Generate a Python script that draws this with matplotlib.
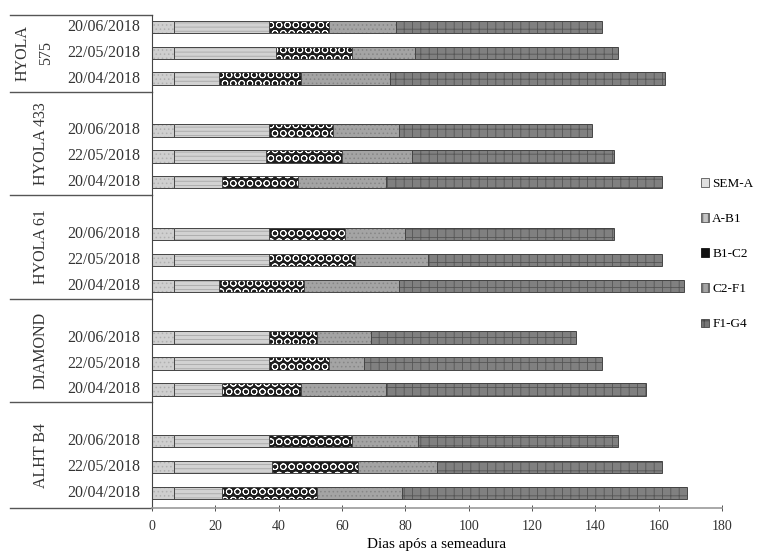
import matplotlib
matplotlib.use('Agg')
import matplotlib.pyplot as plt
import matplotlib.transforms as mtransforms
from matplotlib.patches import Patch
import numpy as np

plt.rcParams['font.family'] = ['Liberation Serif', 'DejaVu Serif']
plt.rcParams['hatch.linewidth'] = 0.6

# cultivars from bottom to top, sowing dates from bottom to top inside each group
cultivars = ['ALHT B4', 'DIAMOND', 'HYOLA 61', 'HYOLA 433', 'HYOLA\n575']
dates = ['20/04/2018', '22/05/2018', '20/06/2018']
stages = ['SEM-A', 'A-B1', 'B1-C2', 'C2-F1', 'F1-G4']

# end of each stage (days after sowing), order: cultivar x date
sem_a = [7, 7, 7,   7, 7, 7,   7, 7, 7,   7, 7, 7,   7, 7, 7]
a_b1 = [22, 38, 37,   22, 37, 37,   21, 37, 37,   22, 36, 37,   21, 39, 37]
b1_c2 = [52, 65, 63,   47, 56, 52,   48, 64, 61,   46, 60, 57,   47, 63, 56]
c2_f1 = [79, 90, 84,   74, 67, 69,   78, 87, 80,   74, 82, 78,   75, 83, 77]
f1_g4 = [169, 161, 147,   156, 142, 134,   168, 161, 146,   161, 146, 139,   162, 147, 142]

ends = np.array([sem_a, a_b1, b1_c2, c2_f1, f1_g4], dtype=float)
starts = np.vstack([np.zeros(ends.shape[1]), ends[:-1]])

# y positions: 4 slots per group, the top slot of each group left empty
ypos = np.array([4 * g + d for g in range(len(cultivars)) for d in range(len(dates))])

styles = [
    dict(facecolor='#cfcfcf', edgecolor='#b0b0b0', hatch='....'),
    dict(facecolor='#d2d2d2', edgecolor='#a8a8a8', hatch='----'),
    dict(facecolor='#1e1e1e', edgecolor='white', hatch='OO'),
    dict(facecolor='#a4a4a4', edgecolor='#868686', hatch='....'),
    dict(facecolor='#808080', edgecolor='#555555', hatch='++'),
]
legend_styles = [
    dict(facecolor='#e0e0e0', edgecolor='#555555'),
    dict(facecolor='#c4c4c4', edgecolor='#555555', hatch='|||'),
    dict(facecolor='#111111', edgecolor='#111111'),
    dict(facecolor='#a4a4a4', edgecolor='#555555', hatch='|||'),
    dict(facecolor='#777777', edgecolor='#444444', hatch='++'),
]

fig = plt.figure(figsize=(7.57, 5.57), dpi=100)
ax = fig.add_axes([152 / 757, 1 - 508 / 557, 570 / 757, 493 / 557])

h = 0.48
for i in range(len(stages)):
    ax.barh(ypos, ends[i] - starts[i], left=starts[i], height=h, linewidth=0, **styles[i])
    # outline of each segment
    ax.barh(ypos, ends[i] - starts[i], left=starts[i], height=h, fill=False,
            edgecolor='#444444', linewidth=0.7)

ax.set_xlim(0, 180)
ax.set_ylim(-0.58, 18.46)
ax.set_xticks(np.arange(0, 181, 20))
ax.tick_params(axis='x', direction='inout', length=4, width=0.6, labelsize=10, pad=7, colors='#333333')
ax.set_yticks([])
ax.spines['top'].set_visible(False)
ax.spines['right'].set_visible(False)
ax.spines['left'].set_color('#444444')
ax.spines['bottom'].set_color('#999999')
ax.spines['bottom'].set_linewidth(1.2)
ax.set_xlabel('Dias após a semeadura', fontsize=11, labelpad=3)

# date labels and cultivar labels on the left
trans = mtransforms.blended_transform_factory(ax.transAxes, ax.transData)
for k, y in enumerate(ypos):
    ax.text(-0.02, y, dates[k % 3], transform=trans, ha='right', va='center', fontsize=11.5, color='#333333')

x_line = (10 - 152) / 570
seps = [-0.58] + [4 * g - 0.5 for g in range(1, len(cultivars))] + [18.46]
for s in seps:
    ax.plot([x_line, 0], [s, s], transform=trans, color='#555555', linewidth=1.0, clip_on=False)
for g, name in enumerate(cultivars):
    ymid = (seps[g] + seps[g + 1]) / 2
    xc = 34 if '\n' in name else 41
    ax.text((xc - 152) / 570, ymid, name, transform=trans, rotation=90, ha='center', va='center',
            fontsize=11.5, color='#333333', linespacing=1.6)

handles = [Patch(label=stages[i], linewidth=0.6, **legend_styles[i]) for i in range(len(stages))]
fig.legend(handles=handles, loc='upper left', bbox_to_anchor=(701 / 757, 1 - 178 / 557),
           frameon=False, fontsize=9.5, handlelength=0.6, handleheight=0.6, handletextpad=0.25,
           labelspacing=1.75, borderaxespad=0, borderpad=0)

fig.savefig('out.png', dpi=100)
